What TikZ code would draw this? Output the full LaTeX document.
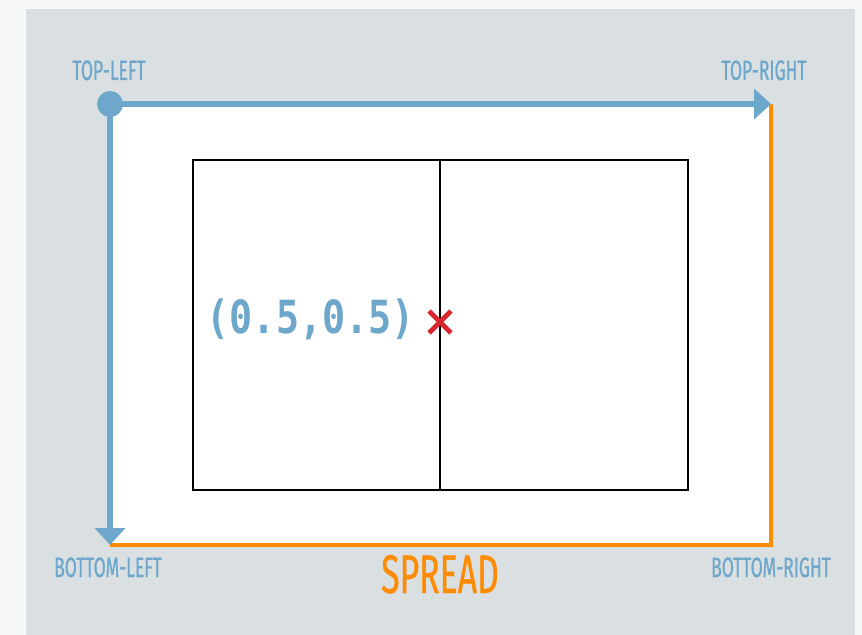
\documentclass[tikz,border=0pt]{standalone}
\usepackage{fontspec}
\newfontfamily\labelfont{Fira Sans}[FakeStretch=0.62, FakeBold=0.6]
\newfontfamily\codefont{DejaVu Sans Mono}[FakeStretch=0.84]
\usetikzlibrary{arrows.meta,shapes.misc}
\definecolor{pagebg}{HTML}{F7F9F9}
\definecolor{panelgray}{HTML}{DADFE1}
\definecolor{axisblue}{HTML}{6DA7CC}
\definecolor{spreadorange}{HTML}{FF8C00}
\definecolor{markred}{HTML}{D9262E}
\tikzset{
  cornerlabel/.style={text=axisblue, font=\labelfont\fontsize{16}{17}\selectfont, anchor=base, inner sep=0pt},
  axis/.style={axisblue, line width=3.1pt, -{Triangle[length=0.34cm, width=0.6cm]}},
  edge/.style={spreadorange, line width=2.1pt},
  page/.style={draw=black, line width=1.6pt}
}
\begin{document}
\begin{tikzpicture}[x=0.02cm, y=-0.02cm]
	\fill[pagebg] (0,0) rectangle (862,635);
	\useasboundingbox (0,0) rectangle (862,635);
	\fill[panelgray] (26,9) rectangle (855,635);
	\fill[white] (110,104) rectangle (771,545);
	% corners of the spread
	\coordinate (tl) at (110,104);
	\coordinate (tr) at (771,104);
	\coordinate (bl) at (110,545);
	\coordinate (br) at (771,545);
	\draw[edge] (tr) -- (br) -- (bl);
	\draw[axis] (tl) -- (tr);
	\draw[axis] (tl) -- (bl);
	\fill[axisblue] (tl) circle (13);
	\node[cornerlabel] (labTL) at (109,80) {TOP-LEFT};
	\node[cornerlabel] (labTR) at (764,80) {TOP-RIGHT};
	\node[cornerlabel] (labBL) at (108,577) {BOTTOM-LEFT};
	\node[cornerlabel] (labBR) at (771,577) {BOTTOM-RIGHT};
	\node[text=spreadorange, font=\labelfont\fontsize{31}{33}\selectfont, anchor=base, inner sep=0pt] (spread) at (440,593) {SPREAD};
	% two pages
	\draw[page] (193,160) rectangle (440,490);
	\draw[page] (440,160) rectangle (688,490);
	\node[cross out, draw=markred, line width=2.8pt, minimum size=0.34cm, inner sep=0pt] (mid) at (440,322) {};
	\node[text=axisblue, font=\codefont\bfseries\fontsize{26}{28}\selectfont, anchor=base east, inner sep=0pt] (coord) at (415,333) {(0.5,0.5)};
\end{tikzpicture}
\end{document}
